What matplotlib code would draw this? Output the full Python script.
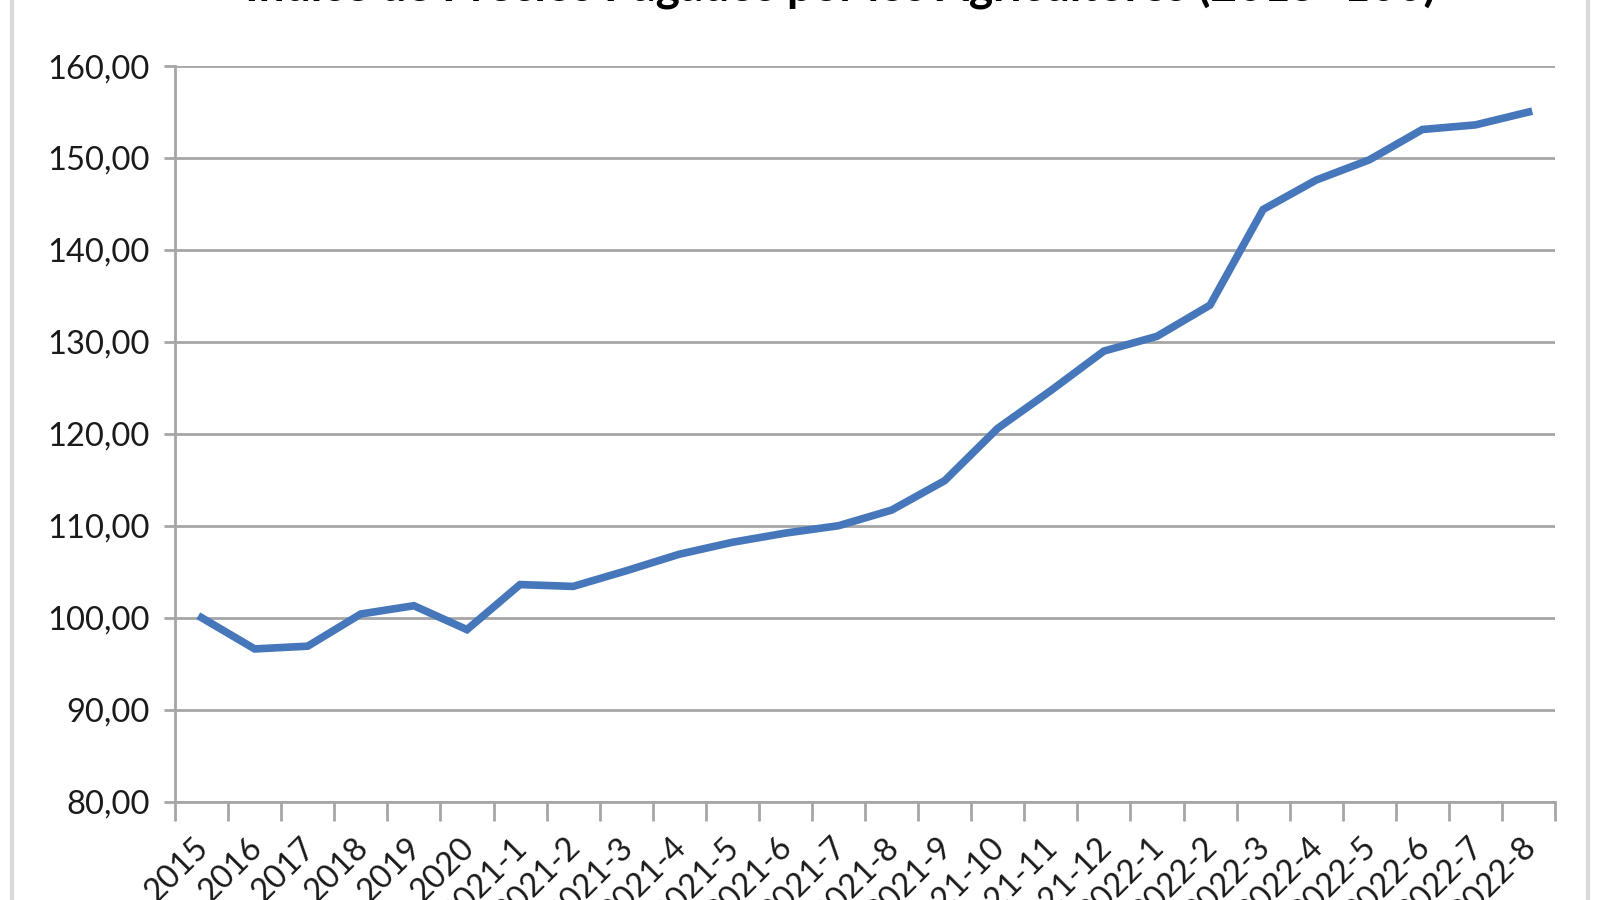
import matplotlib.pyplot as plt
import matplotlib.transforms as mtransforms
from matplotlib.lines import Line2D

# Categorías del eje X
periodos = ["2015", "2016", "2017", "2018", "2019", "2020",
            "2021-1", "2021-2", "2021-3", "2021-4", "2021-5", "2021-6",
            "2021-7", "2021-8", "2021-9", "2021-10", "2021-11", "2021-12",
            "2022-1", "2022-2", "2022-3", "2022-4", "2022-5", "2022-6",
            "2022-7", "2022-8"]

# Índice (2015=100)
indice = [100.0, 96.6, 96.9, 100.4, 101.3, 98.7,
          103.6, 103.4, 105.1, 106.9, 108.2, 109.2,
          110.0, 111.7, 114.9, 120.6, 124.7, 129.0,
          130.6, 134.0, 144.4, 147.6, 149.8, 153.1,
          153.6, 155.0]

# Eje Y
valores_y = [80, 90, 100, 110, 120, 130, 140, 150, 160]
etiquetas_y = ["80,00", "90,00", "100,00", "110,00", "120,00",
               "130,00", "140,00", "150,00", "160,00"]

titulo = "Índice de Precios Pagados por los Agricultores (2015=100)"

plt.rcParams["font.family"] = ["Lato", "DejaVu Sans"]

fig = plt.figure(figsize=(16, 9), dpi=100)
ax = fig.add_axes([0.1094, 0.1094, 0.8625, 0.8172])

x = list(range(len(periodos)))
ax.plot(x, indice, color="#4677bb", linewidth=5.5, solid_joinstyle="miter", zorder=3)

# Eje Y y rejilla
ax.set_ylim(80, 160)
ax.set_yticks(valores_y)
ax.set_yticklabels(etiquetas_y, fontsize=23.5, color="#1a1a1a")
ax.yaxis.grid(True, color="#a6a6a6", linewidth=2)
ax.tick_params(axis="y", length=8, width=2, color="#a6a6a6", pad=10)

# Eje X: marcas entre categorías
ax.set_xlim(-0.5, len(periodos) - 0.5)
ax.set_xticks([i - 0.5 for i in range(len(periodos) + 1)])
ax.set_xticklabels([])
ax.tick_params(axis="x", length=14, width=2, color="#a6a6a6")
ax.set_xticks(x, minor=True)
ax.set_xticklabels(periodos, minor=True, rotation=45, ha="right", va="top",
                   rotation_mode="anchor", fontsize=23.5, color="#1a1a1a")
ax.tick_params(axis="x", which="minor", length=0, pad=22)
desplazar = mtransforms.ScaledTranslation(-8 / 100, 0, fig.dpi_scale_trans)
for etiqueta in ax.get_xticklabels(minor=True):
    etiqueta.set_transform(etiqueta.get_transform() + desplazar)

for lado in ["top", "right"]:
    ax.spines[lado].set_visible(False)
for lado in ["left", "bottom"]:
    ax.spines[lado].set_color("#a6a6a6")
    ax.spines[lado].set_linewidth(2)

# Título (recortado arriba como en la imagen original)
W, H = 1600, 900
t = fig.text(245 / W, 1 - 9 / H, titulo, ha="left", va="bottom",
             fontsize=33, fontweight="bold", color="#000000")
r = fig.canvas.get_renderer()
ancho = t.get_window_extent(r).width
t.set_fontsize(33 * 1195 / ancho)

# Marco del gráfico
fig.add_artist(Line2D([0.0075, 0.0075], [0, 1], transform=fig.transFigure,
                      color="#d9d9d9", linewidth=3))
fig.add_artist(Line2D([0.9925, 0.9925], [0, 1], transform=fig.transFigure,
                      color="#d9d9d9", linewidth=3))

fig.savefig("out.png", dpi=100)
